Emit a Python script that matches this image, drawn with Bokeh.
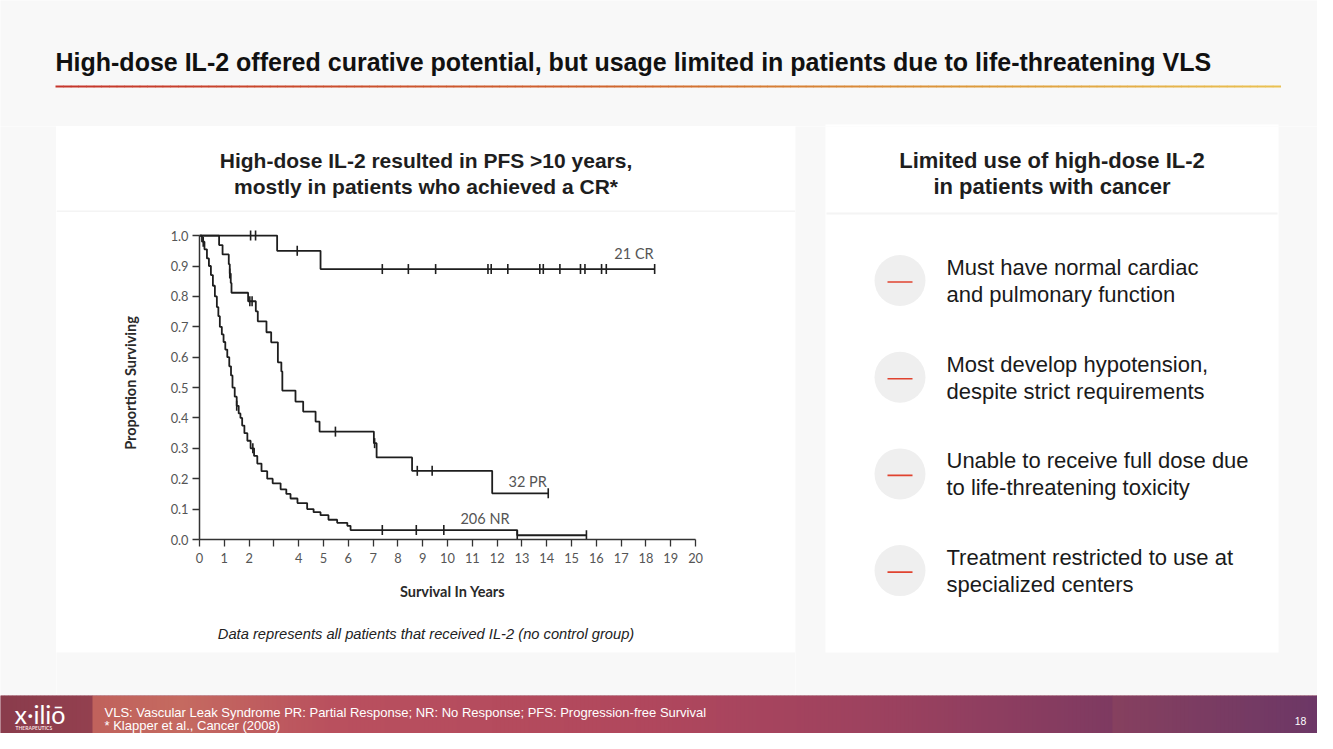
import numpy as np
from bokeh.plotting import figure
from bokeh.layouts import column, row
from bokeh.models import Range1d, FixedTicker, NumeralTickFormatter
from bokeh.core.properties import value
from bokeh.embed import file_html
from bokeh.resources import INLINE

# ---------------- data ----------------
cr_times = [0.0, 3.13, 4.88]
cr_surv = [1.0, 0.95, 0.89]
cr_last = 18.35
cr_censored = [2.06, 2.26, 3.94, 7.37, 8.42, 9.52, 11.63, 11.76, 12.43,
               13.72, 13.86, 14.53, 15.36, 15.54, 16.21, 16.40, 18.35]

pr_times = [0.0, 0.79, 0.93, 1.18, 1.22, 1.26, 1.29, 1.96, 2.27, 2.35, 2.70,
            2.89, 3.16, 3.30, 3.34, 3.87, 4.18, 4.68, 4.84, 7.03, 7.14, 8.57, 11.80]
pr_surv = [1.0, 0.969, 0.938, 0.906, 0.875, 0.844, 0.812, 0.784, 0.751, 0.718, 0.682,
           0.649, 0.583, 0.553, 0.490, 0.454, 0.421, 0.388, 0.355, 0.317, 0.270, 0.226, 0.152]
pr_last = 14.06
pr_censored = [1.22, 2.03, 2.12, 5.48, 7.06, 8.78, 9.38, 14.06]

nr_times = [0.0, 0.10, 0.20, 0.30, 0.38, 0.46, 0.54, 0.62, 0.70, 0.76, 0.82, 0.90,
            0.97, 1.04, 1.12, 1.20, 1.27, 1.33, 1.42, 1.50, 1.58, 1.65, 1.72, 1.81,
            1.93, 2.06, 2.20, 2.33, 2.50, 2.73, 2.95, 3.27, 3.50, 3.67, 3.95, 4.34,
            4.60, 4.88, 5.20, 5.55, 5.96, 6.09, 12.81]
nr_surv = [1.0, 0.98, 0.955, 0.925, 0.90, 0.87, 0.835, 0.80, 0.765, 0.735, 0.70, 0.675,
           0.65, 0.625, 0.60, 0.57, 0.54, 0.50, 0.47, 0.44, 0.415, 0.40, 0.375, 0.35,
           0.325, 0.30, 0.275, 0.25, 0.225, 0.20, 0.185, 0.165, 0.15, 0.135, 0.12, 0.10,
           0.09, 0.08, 0.065, 0.055, 0.045, 0.031, 0.014]
nr_last = 15.6
nr_censored = [0.15, 1.50, 2.15, 7.37, 8.74, 9.85, 12.81, 15.6]

x_ticks = list(range(0, 21))
x_unlabeled = [3]
y_ticks = [0.0, 0.1, 0.2, 0.3, 0.4, 0.5, 0.6, 0.7, 0.8, 0.9, 1.0]
group_labels = ["21 CR", "32 PR", "206 NR"]

slide_title = ("High-dose IL-2 offered curative potential, but usage limited in "
               "patients due to life-threatening VLS")
left_card_title = ["High-dose IL-2 resulted in PFS >10 years,",
                   "mostly in patients who achieved a CR*"]
right_card_title = ["Limited use of high-dose IL-2", "in patients with cancer"]
bullets = [["Must have normal cardiac", "and pulmonary function"],
           ["Most develop hypotension,", "despite strict requirements"],
           ["Unable to receive full dose due", "to life-threatening toxicity"],
           ["Treatment restricted to use at", "specialized centers"]]
footnote = "Data represents all patients that received IL-2 (no control group)"
footer_lines = ["VLS: Vascular Leak Syndrome PR: Partial Response; NR: No Response; "
                "PFS: Progression-free Survival",
                "* Klapper et al., Cancer (2008)"]
page_number = "18"

# ---------------- styles ----------------
SLIDE_BG = "#f8f8f8"
INK = "#1e1e1e"
SANS = "Liberation Sans"
CHART_FONT = "Lato"


def panel(x0, x1, y0, y1, bg=SLIDE_BG):
    p = figure(width=x1 - x0, height=y1 - y0,
               x_range=Range1d(x0, x1), y_range=Range1d(y1, y0),
               output_backend="svg", toolbar_location=None,
               x_axis_type=None, y_axis_type=None, min_border=0,
               background_fill_color=bg, border_fill_color=bg,
               outline_line_color=None, frame_align=False)
    return p


def txt(p, x, y, s, size, color=INK, style="normal", align="left", font=SANS,
        baseline="middle"):
    p.text(x=[x], y=[y], text=[s], text_font=value(font),
           text_font_size=f"{size}px", text_font_style=style,
           text_color=color, text_align=align, text_baseline=baseline)


def hex2rgb(h):
    h = h.lstrip("#")
    return np.array([int(h[i:i + 2], 16) for i in (0, 2, 4)], dtype=float)


def blend(stops, pos):
    ps = [s[0] for s in stops]
    cs = [hex2rgb(s[1]) for s in stops]
    out = []
    for q in pos:
        c = np.array([np.interp(q, ps, [cc[k] for cc in cs]) for k in range(3)])
        out.append("#%02x%02x%02x" % tuple(int(round(v)) for v in c))
    return out


def filler(p, x, y):
    p.rect(x=[x], y=[y], width=1, height=1, fill_alpha=0, line_alpha=0)


W, H = 1317, 733
TOP = 126  # where the row of cards starts

# ---------------- header ----------------
head = panel(0, W, 0, TOP)
txt(head, 55, 61, slide_title, 25, color="#111111", style="bold")
n = 160
edges = np.linspace(55, 1280, n + 1)
cols = blend([(0, "#c5352b"), (0.45, "#d0652e"), (0.75, "#dd9a3c"), (1, "#eac152")],
             np.linspace(0, 1, n))
head.segment(x0=edges[:-1], x1=edges[1:] + 0.5, y0=86, y1=86, line_color=cols,
             line_width=2.2)
head.quad(left=[825], right=[1278], top=[124], bottom=[TOP + 1], fill_color="white",
          line_color=None)

# ---------------- left margin ----------------
lmargin = panel(0, 56, TOP, 695)
filler(lmargin, 30, 400)

# ---------------- left card ----------------
card_head = panel(56, 795, TOP, 212, bg="white")
txt(card_head, 425.5, 160, left_card_title[0], 21, style="bold", align="center")
txt(card_head, 425.5, 186, left_card_title[1], 21, style="bold", align="center")
card_head.segment(x0=[56], x1=[795], y0=[211], y1=[211], line_color="#f4f4f4",
                  line_width=2)

chart = figure(width=739, height=398, x_range=Range1d(0, 20.4),
               y_range=Range1d(0, 1.03), output_backend="svg",
               toolbar_location=None, frame_align=False,
               min_border_left=143, min_border_right=90,
               min_border_top=14, min_border_bottom=71,
               background_fill_color="white", border_fill_color="white",
               outline_line_color=None)
chart.grid.visible = False
chart.xaxis.ticker = FixedTicker(ticks=x_ticks)
chart.xaxis.major_label_overrides = {t: "" for t in x_unlabeled}
chart.xaxis.bounds = (0, 20)
chart.yaxis.ticker = FixedTicker(ticks=y_ticks)
chart.yaxis.formatter = NumeralTickFormatter(format="0.0")
chart.yaxis.bounds = (0, 1)
for ax in (chart.xaxis, chart.yaxis):
    ax.axis_line_color = "#333333"
    ax.axis_line_width = 1.5
    ax.major_tick_line_color = "#333333"
    ax.major_tick_line_width = 1.3
    ax.major_tick_out = 7
    ax.major_tick_in = 0
    ax.minor_tick_line_color = None
    ax.major_label_text_font = CHART_FONT
    ax.major_label_text_font_size = "12.8px"
    ax.major_label_text_color = "#555555"
    ax.axis_label_text_font = CHART_FONT
    ax.axis_label_text_font_size = "14.5px"
    ax.axis_label_text_font_style = "bold"
    ax.axis_label_text_color = "#2a2a2a"
chart.xaxis.axis_label = "Survival In Years"
chart.yaxis.axis_label = "Proportion Surviving"
chart.xaxis.major_label_standoff = 6
chart.yaxis.major_label_standoff = 4
chart.xaxis.axis_label_standoff = 17
chart.yaxis.axis_label_standoff = 29


def surv_at(times, surv, t):
    i = int(np.searchsorted(times, t, side="right")) - 1
    return surv[max(i, 0)]


groups = [(cr_times, cr_surv, cr_last, cr_censored),
          (pr_times, pr_surv, pr_last, pr_censored),
          (nr_times, nr_surv, nr_last, nr_censored)]
for times, surv, last, cens in groups:
    xs = list(times) + [last]
    ys = list(surv) + [surv[-1]]
    chart.step(xs, ys, mode="after", line_color=INK, line_width=1.8)
    cy = [surv_at(times, surv, t) for t in cens]
    chart.scatter(cens, cy, marker="dash", angle=np.pi / 2, size=10,
                  line_color=INK, line_width=1.6)

label_kw = dict(text_font=value(CHART_FONT), text_font_size="14.5px",
                text_color="#555555", text_baseline="middle")
chart.text(x=[18.31], y=[0.94], text=[group_labels[0]], text_align="right", **label_kw)
chart.text(x=[12.46], y=[0.192], text=[group_labels[1]], text_align="left", **label_kw)
chart.text(x=[10.52], y=[0.07], text=[group_labels[2]], text_align="left", **label_kw)

card_foot = panel(56, 795, 610, 652, bg="white")
txt(card_foot, 425.5, 633, footnote, 14.7, color="#222222", style="italic",
    align="center")

gap_bot = panel(56, 795, 652, 695)
filler(gap_bot, 400, 670)

left_col = column(card_head, chart, card_foot, gap_bot, spacing=0)

# ---------------- right card ----------------
right = panel(795, W, TOP, 695)
right.quad(left=[825], right=[1278], top=[TOP - 1], bottom=[652], fill_color="white",
           line_color=None)
txt(right, 1051.5, 160, right_card_title[0], 22, style="bold", align="center")
txt(right, 1051.5, 186, right_card_title[1], 22, style="bold", align="center")
right.segment(x0=[826], x1=[1277], y0=[213], y1=[213], line_color="#f4f4f4",
              line_width=2)
for i, lines in enumerate(bullets):
    cy = 280 + i * 96.7
    right.circle(x=[899.5], y=[cy], radius=25.5, fill_color="#efefef",
                 line_color=None)
    right.segment(x0=[887], x1=[912], y0=[cy + 1.5], y1=[cy + 1.5],
                  line_color="#e0432f", line_width=1.6)
    txt(right, 946, cy - 13, lines[0], 22, color="#1a1a1a")
    txt(right, 946, cy + 14, lines[1], 22, color="#1a1a1a")

# ---------------- footer ----------------
foot = panel(0, W, 695, H, bg="#8e3f52")
fx = np.arange(0, W, 4)
fcols = blend([(0, "#8a3c4c"), (90, "#93404f"), (92, "#c0625c"), (180, "#c56a60"),
               (330, "#b9505e"), (650, "#b0475d"), (900, "#9a415f"),
               (1110, "#7e3a61"), (1112, "#86405f"), (1317, "#6c3766")], fx)
foot.quad(left=fx, right=fx + 4.5, top=695, bottom=H, fill_color=fcols,
          line_color=None)
txt(foot, 14, 713, "x·iliō", 25, color="white", font="Lato")
txt(foot, 15, 727, "THERAPEUTICS", 5, color="#f3dede", font="Lato", style="bold")
txt(foot, 104, 712, footer_lines[0], 13, color="white")
txt(foot, 104, 725, footer_lines[1], 13, color="white")
txt(foot, 1300, 720, page_number, 10.5, color="white", align="center")

layout = column(head, row(lmargin, left_col, right, spacing=0), foot, spacing=0)

open("out.html", "w").write(file_html(layout, INLINE))
